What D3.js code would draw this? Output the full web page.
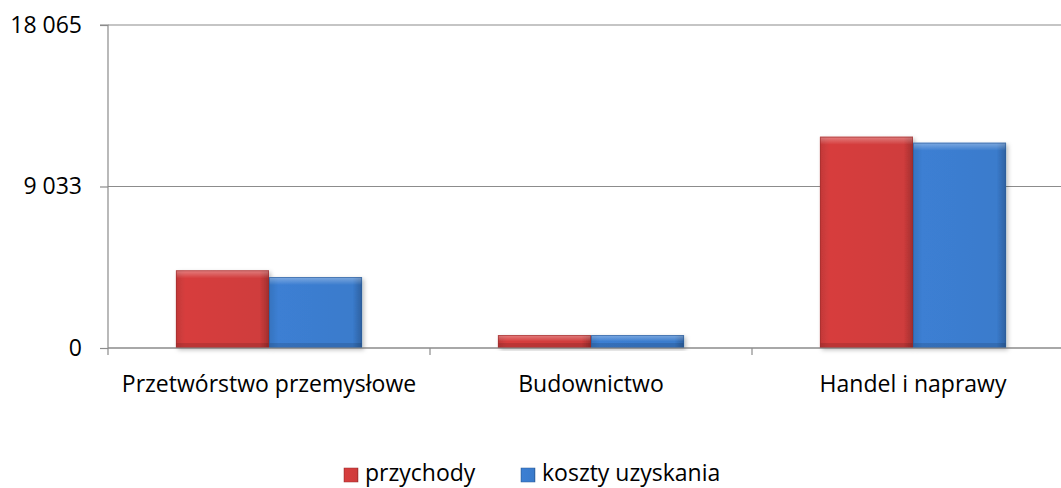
<!DOCTYPE html>
<html><head><meta charset="utf-8">
<script src="https://cdn.jsdelivr.net/npm/d3@7"></script>
<style>body{margin:0;background:#fff}svg{display:block}text{font-family:"Open Sans","Noto Sans",sans-serif}</style>
</head><body><svg id="c" width="1061" height="488"></svg>
<script>
const categories = ["Przetwórstwo przemysłowe", "Budownictwo", "Handel i naprawy"];
const seriesNames = ["przychody", "koszty uzyskania"];
const przychody = [4346, 727, 11818];
const kosztyUzyskania = [3971, 727, 11483];
const yTicks = [0, 9033, 18065];
const yTickLabels = ["0", "9 033", "18 065"];
const colors = ["#cf3c3c", "#3a7bcc"];

const FS = 23;
const svg = d3.select("#c");
const m = {l:108};
const plotW = 966;
const y = d3.scaleLinear().domain([0, 18065]).range([348, 25]);
const x0 = d3.scaleBand().domain(categories).range([m.l, m.l + plotW]).paddingInner(0.422).paddingOuter(0.211);
const x1 = d3.scaleBand().domain(seriesNames).range([0, x0.bandwidth()]);

const defs = svg.append("defs");
function grad(id, c) {
  const base = d3.color(c);
  const g = defs.append("linearGradient").attr("id", id).attr("x1", 0).attr("x2", 1).attr("y1", 0).attr("y2", 0);
  g.append("stop").attr("offset", "0%").attr("stop-color", base.darker(0.2));
  g.append("stop").attr("offset", "10%").attr("stop-color", base.brighter(0.1));
  g.append("stop").attr("offset", "90%").attr("stop-color", base);
  g.append("stop").attr("offset", "100%").attr("stop-color", base.darker(0.7));
  const v = defs.append("linearGradient").attr("id", id + "v").attr("x1", 0).attr("x2", 0).attr("y1", 0).attr("y2", 1);
  v.append("stop").attr("offset", "0%").attr("stop-color", "#fff").attr("stop-opacity", 0.35);
  v.append("stop").attr("offset", "100%").attr("stop-color", "#fff").attr("stop-opacity", 0);
}
grad("g0", colors[0]); grad("g1", colors[1]);
const f = defs.append("filter").attr("id", "sh").attr("x", "-10%").attr("y", "-10%").attr("width", "130%").attr("height", "130%");
f.append("feDropShadow").attr("dx", 2).attr("dy", 2).attr("stdDeviation", 2).attr("flood-color", "#000").attr("flood-opacity", 0.25);

// gridlines
svg.append("g").selectAll("line").data(yTicks).join("line")
  .attr("x1", m.l).attr("x2", 1061).attr("y1", d => y(d)).attr("y2", d => y(d))
  .attr("stroke", "#8c8c8c").attr("stroke-width", 1.2);

// y axis
const yAxis = d3.axisLeft(y).tickValues(yTicks).tickFormat((d,i) => yTickLabels[i]).tickSize(8).tickPadding(18);
const ya = svg.append("g").attr("transform", `translate(${m.l},0)`).call(yAxis);
ya.select(".domain").attr("stroke", "#8c8c8c").attr("stroke-width", 1.2).attr("d", `M-8,25H0V355`);
ya.selectAll(".tick line").attr("stroke", "#8c8c8c").attr("stroke-width", 1.2);
ya.selectAll(".tick text").attr("font-size", FS).attr("fill", "#000").attr("font-family", "'Open Sans',sans-serif");

// bars
const data = categories.map((c,i) => ({c, vals:[przychody[i], kosztyUzyskania[i]]}));
const gb = svg.append("g");
data.forEach(d => {
  d.vals.forEach((v,j) => {
    const bx = x0(d.c) + x1(seriesNames[j]), bw = x1.bandwidth();
    const g = gb.append("g");
    g.append("rect").attr("x", bx).attr("y", y(v)).attr("width", bw).attr("height", y(0) - y(v))
      .attr("fill", `url(#g${j})`).attr("filter", "url(#sh)");
    const hh = Math.min(8, (y(0)-y(v))/2);
    g.append("rect").attr("x", bx).attr("y", y(v)).attr("width", bw).attr("height", hh)
      .attr("fill", `url(#g${j}v)`);
    g.append("rect").attr("x", bx).attr("y", y(0)-Math.min(5,hh)).attr("width", bw).attr("height", Math.min(5,hh))
      .attr("fill", "#000").attr("opacity", 0.12);
    g.append("rect").attr("x", bx+0.5).attr("y", y(v)+0.5).attr("width", bw-1).attr("height", y(0)-y(v)-1)
      .attr("fill", "none").attr("stroke", d3.color(colors[j]).darker(0.8)).attr("stroke-opacity", 0.6);
  });
});

// x axis
const xa = svg.append("g").attr("transform", `translate(0,348)`);
xa.append("line").attr("x1", m.l).attr("x2", 1061).attr("stroke", "#8c8c8c").attr("stroke-width", 1.2);
const step = x0.step();
const bounds = [m.l + step, m.l + 2*step];
xa.selectAll(".tk").data(bounds).join("line").attr("x1", d => d).attr("x2", d => d).attr("y1", 0).attr("y2", 7)
  .attr("stroke", "#8c8c8c").attr("stroke-width", 1.2);
xa.selectAll(".lb").data(categories).join("text")
  .attr("x", d => x0(d) + x0.bandwidth()/2).attr("y", 44).attr("text-anchor", "middle")
  .attr("font-size", FS).attr("fill", "#000").text(d => d);

// legend
const lg = svg.append("g");
const lx = [344, 521];
seriesNames.forEach((s,j) => {
  lg.append("rect").attr("x", lx[j]).attr("y", 468).attr("width", 14).attr("height", 14)
    .attr("fill", `url(#g${j})`).attr("stroke", d3.color(colors[j]).darker(0.8)).attr("stroke-width", 0.5);
  lg.append("text").attr("x", lx[j] + 21).attr("y", 481).attr("font-size", FS).attr("fill", "#000").text(s);
});
</script></body></html>
